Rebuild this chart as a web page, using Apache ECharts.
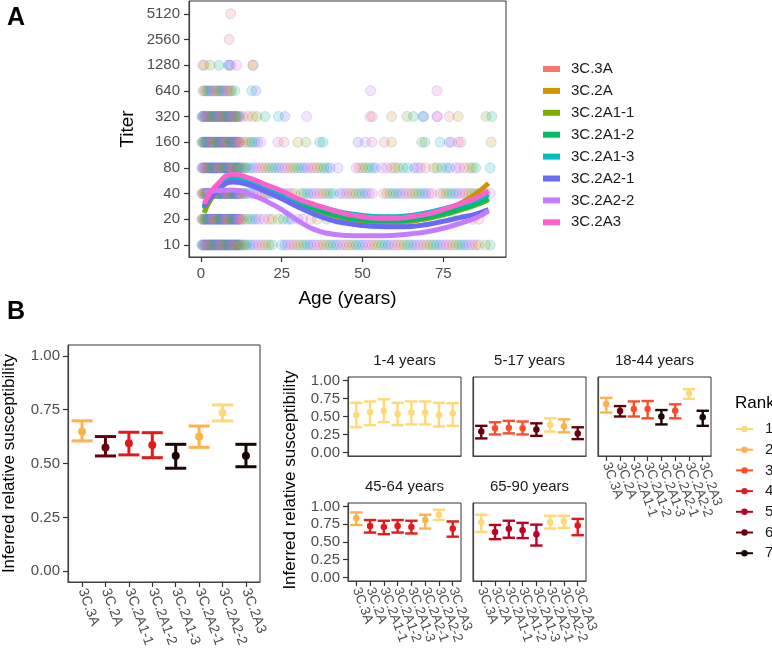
<!DOCTYPE html>
<html><head><meta charset="utf-8">
<script src="https://cdn.jsdelivr.net/npm/echarts@6/dist/echarts.min.js"></script>
<style>html,body{margin:0;padding:0;background:#fff}#c{width:772px;height:652px}</style>
</head><body><div id="c"></div>
<script>
// ---------- Panel A data ----------
const clades = ['3C.3A','3C.2A','3C.2A1-1','3C.2A1-2','3C.2A1-3','3C.2A2-1','3C.2A2-2','3C.2A3'];
const cladeColors = ['#F8766D','#CD9600','#7CAE00','#00BE67','#00BFC4','#6A6AF8','#C77CFF','#FF61CC'];
const titerTicks = [10,20,40,80,160,320,640,1280,2560,5120];
const ageTicks = [0,25,50,75];

// ages (years) of individual measurements at each titer level
const ages10 = [0.5,1,1.5,2,2.5,3,3.5,4,4.5,5,5.5,6,6.5,7,7.5,8,8.5,9,9.5,10,10.5,11,11.5,12,12.5,13,13.5,14,15,16,17,18,19,20,21,22,25,26,27,28,29,30,31,32,33,34,35,36,37,38,39,40,41,42,43,44,45,46,47,48,49,50,51,52,53,54,55,56,57,58,59,60,61,62,63,64,65,66,67,68,69,70,71,72,73,74,75,76,77,78,79,80,81,82,83,84,85,86,88,89.5];
const ages20 = [0.5,1,1.5,2,2.5,3,3.5,4,4.5,5,5.5,6,6.5,7,7.5,8,8.5,9,9.5,10,10.5,11,11.5,12,12.5,13,14,15,16,17,18,19.5,21,22,24,25.5,27,28,30,31.5,34,36,39,42,45,48,51,55,58,62,66,70,74,78,81,84,86];
const ages40 = [0.5,1,1.5,2,2.5,3,3.5,4,4.5,5,5.5,6,6.5,7,7.5,8,8.5,9,9.5,10,10.5,11,11.5,12,12.5,13,13.5,14,15,16,17,18,19,20,21,22,24,25,26,27,28,29,31,32,33,34,35,36,37,38,39,40,41,43,44,45,46,47,48,49,50,51,52,53,56.5,57.5,58.5,59.5,60.5,61.5,62.5,63.5,64.5,65.5,66.5,67.5,68.5,69.5,70.5,71.5,74,75,76,77,78,79,80,81,82,83,84,85,86,87,88,89.5];
const ages80 = [0.5,1,1.5,2,2.5,3,3.5,4,4.5,5,5.5,6,6.5,7,7.5,8,8.5,9,9.5,10,10.5,11,11.5,12,12.5,13,13.5,14,15,16,17,18,19,20,21,22,23,24,25,26,27,28,29,30,31,32,33,34,35,36,37,38,39,40,42.4,48,49,50,51,52,53,54,56,57.5,59,60,61,62.5,64,66,67,68,69.5,72,73,74.5,76,77,79,80,81.5,83,84,85,89.5];
const ages160 = [0.5,1,1.5,2,2.5,3,3.5,4,4.5,5,5.5,6,6.5,7,7.5,8,8.5,9,9.5,10,10.5,11,11.5,12,13,14,15,15.7,16.5,17.5,18.5,23.8,25.7,30,32.5,36.8,37.8,48.6,50.8,52.9,56.7,59,68.3,69.3,74,76.8,77.5,79.6,80.5,89.8];
const ages320 = [0.5,1,1.5,2,2.5,3,3.5,4,4.5,5,5.5,6,6.5,7,7.5,8,8.5,9,9.5,10,10.5,11,12,13,14.5,16,17.3,19.8,24,26,32.7,52.3,53,59,63.7,65.7,68.7,68.9,73,73.2,76.8,79.6,88.2,90];
const ages640 = [0.6,1,1.5,2,2.5,3,3.5,4,4.5,5,5.5,6,6.5,7,7.5,8,8.5,9,9.5,10.5,15.7,17,52.5,73];
const ages1280 = [0.5,1,2.8,5.6,8.5,8.8,9.2,11,16,16.2];
const ages2560 = [8.7];
const ages5120 = [9.2];
// extra observations of young children (very dense band) at titers 10-320
const denseChildAges = [0.25,0.75,1.25,1.75,2.25,2.75,3.25,3.75,4.25,4.75,5.25,5.75,6.25,6.75,7.25,7.75,8.25,8.75,9.25,9.75,10.25,10.75,11.25,11.75];

// smoothed geometric-mean titer by age, one array per clade
const curveAges = [1,5,10,15,20,25,30,35,40,45,50,55,60,65,70,75,80,85,89];
const gm3C3A   = [27.3,44.4,56.6,52.8,44.4,36.8,29.9,25.5,21.9,19.7,18.4,17.9,18.0,18.9,20.6,23.0,26.4,30.3,34.8];
const gm3C2A   = [26.4,44.4,58.6,53.5,46.0,37.8,31.0,26.4,23.0,20.7,19.5,18.9,19.1,20.0,21.7,24.6,30.3,39.5,52.8];
const gm3C2A11 = [23.8,42.9,57.4,54.6,46.6,38.6,31.4,26.4,23.0,20.7,19.3,18.7,18.7,19.2,20.4,22.5,25.5,29.3,33.6];
const gm3C2A12 = [27.3,46.0,58.6,53.5,46.0,38.1,31.4,26.8,23.3,21.0,19.7,19.2,19.2,19.7,21.1,23.3,26.4,30.3,35.3];
const gm3C2A13 = [28.3,47.6,61.5,56.6,48.6,40.6,33.6,29.3,26.0,23.6,22.2,21.4,21.4,22.2,23.8,26.4,29.7,33.6,39.2];
const gm3C2A21 = [28.3,42.9,54.6,50.3,42.3,34.8,27.9,23.0,19.7,17.9,16.9,16.4,16.3,16.5,17.4,18.9,20.9,23.0,25.9];
const gm3C2A22 = [41.4,43.5,44.1,39.5,32.9,26.0,19.3,15.2,13.5,12.9,12.8,12.8,13.0,13.5,14.3,15.7,17.8,20.7,25.1];
const gm3C2A3  = [30.3,51.0,67.3,60.6,51.0,42.9,34.8,29.9,26.0,23.0,21.4,20.6,20.6,21.4,23.0,26.0,30.3,35.3,42.9];

// ---------- Panel B data ----------
const rankNames = ['1','2','3','4','5','6','7'];
const rankColors = ['#FED976','#FEB24C','#FC4E2A','#E31A1C','#BD0026','#67000D','#1C0505'];
const suscTicks = [0,0.25,0.5,0.75,1];

const allEst  = [0.648,0.574,0.594,0.586,0.536,0.625,0.736,0.536];
const allLo   = [0.605,0.535,0.540,0.527,0.478,0.575,0.698,0.485];
const allHi   = [0.698,0.625,0.645,0.643,0.589,0.674,0.772,0.589];
const allRank = [2,6,4,4,7,2,1,7];

const ageGroups = ['1-4 years','5-17 years','18-44 years','45-64 years','65-90 years'];
const est_1_4  = [0.52,0.56,0.58,0.535,0.555,0.555,0.52,0.545];
const lo_1_4   = [0.35,0.38,0.42,0.38,0.39,0.39,0.36,0.37];
const hi_1_4   = [0.69,0.71,0.74,0.69,0.71,0.71,0.69,0.685];
const rank_1_4 = [1,1,1,1,1,1,1,1];
const est_5_17  = [0.29,0.335,0.345,0.335,0.32,0.38,0.365,0.265];
const lo_5_17   = [0.195,0.25,0.265,0.25,0.23,0.29,0.28,0.185];
const hi_5_17   = [0.37,0.42,0.44,0.43,0.405,0.475,0.46,0.35];
const rank_5_17 = [6,3,3,3,6,1,2,6];
const est_18_44  = [0.675,0.577,0.605,0.605,0.5,0.58,0.82,0.49];
const lo_18_44   = [0.555,0.5,0.5,0.475,0.39,0.475,0.745,0.37];
const hi_18_44   = [0.76,0.645,0.71,0.716,0.59,0.67,0.88,0.58];
const rank_18_44 = [2,6,3,3,7,3,1,7];
const est_45_64  = [0.84,0.725,0.71,0.725,0.71,0.81,0.885,0.69];
const lo_45_64   = [0.74,0.633,0.61,0.633,0.62,0.69,0.81,0.575];
const hi_45_64   = [0.917,0.81,0.80,0.81,0.80,0.885,0.955,0.79];
const rank_45_64 = [2,4,4,4,4,2,1,4];
const est_65_90  = [0.78,0.642,0.688,0.665,0.61,0.78,0.79,0.734];
const lo_65_90   = [0.64,0.54,0.56,0.555,0.45,0.69,0.70,0.596];
const hi_65_90   = [0.885,0.74,0.80,0.77,0.745,0.87,0.87,0.826];
const rank_65_90 = [1,5,5,5,5,1,1,4];

// ---------- build ----------
const lvl = t => Math.log2(t / 10);
const scatterLevels = [[10,ages10.concat(denseChildAges)],[20,ages20.concat(denseChildAges)],[40,ages40.concat(denseChildAges)],
  [80,ages80.concat(denseChildAges)],[160,ages160.concat(denseChildAges)],[320,ages320.concat(denseChildAges)],
  [640,ages640],[1280,ages1280],[2560,ages2560],[5120,ages5120]];
const scatterData = [];
scatterLevels.forEach(([t, arr]) => arr.forEach((a, i) => scatterData.push([a, lvl(t), i % 8])));
const curves = [gm3C3A,gm3C2A,gm3C2A11,gm3C2A12,gm3C2A13,gm3C2A21,gm3C2A22,gm3C2A3];

const gridBorder = {show:true, borderColor:'#333', borderWidth:1, backgroundColor:'transparent'};
const grids = [
  Object.assign({left:189, top:1, width:317, height:256}, gridBorder),
  Object.assign({left:65, top:345, width:195, height:237}, gridBorder),
  Object.assign({left:348, top:377, width:113, height:79}, gridBorder),
  Object.assign({left:473, top:377, width:113, height:79}, gridBorder),
  Object.assign({left:598, top:377, width:113, height:79}, gridBorder),
  Object.assign({left:348, top:503, width:113, height:78}, gridBorder),
  Object.assign({left:473, top:503, width:113, height:78}, gridBorder)
];
const axisLine = {show:true, onZero:false, lineStyle:{color:'#444', width:1.2}};
const tickStyle = {lineStyle:{color:'#333', width:1.2}};

const xAxes = [{
  type:'value', gridIndex:0, min:-3.7, max:94.4,
  axisLine, splitLine:{show:false},
  axisTick:Object.assign({show:true, length:5, customValues:ageTicks}, tickStyle),
  axisLabel:{customValues:ageTicks, fontSize:15, color:'#4d4d4d', margin:9, fontFamily:'Liberation Sans'},
  name:'Age (years)', nameLocation:'middle', nameGap:32,
  nameTextStyle:{fontSize:19, color:'#000', fontFamily:'Liberation Sans'}
}];
const yAxes = [{
  type:'value', gridIndex:0, min:-0.47, max:9.5,
  axisLine, splitLine:{show:false},
  axisTick:Object.assign({show:true, length:5, customValues:titerTicks.map(lvl)}, tickStyle),
  axisLabel:{customValues:titerTicks.map(lvl), fontSize:15, color:'#4d4d4d', margin:9, fontFamily:'Liberation Sans',
    formatter:v => String(Math.round(10 * Math.pow(2, v)))},
  name:'Titer', nameLocation:'middle', nameGap:52,
  nameTextStyle:{fontSize:19, color:'#000', fontFamily:'Liberation Sans'}
}];
const catPos = [1,2,3,4,5,6,7,8];
const catOdd = [1,3,5,7], catEven = [2,4,6,8];
// main x axis for a B panel; labelVals = which category labels this axis carries
function bx(gi, showTicks, labelVals, isMain){
  return {type:'value', gridIndex:gi, min:0.4, max:8.6, position:'bottom', offset:0,
    axisLine:isMain ? axisLine : {show:false}, splitLine:{show:false},
    axisTick:Object.assign({show:showTicks && isMain, length:5, customValues:catPos}, tickStyle),
    axisLabel:{show:labelVals.length > 0, customValues:labelVals.length ? labelVals : catPos, rotate:-70,
      fontSize:gi===1?14:13.5, color:'#4d4d4d', margin:7, showMinLabel:true, showMaxLabel:true, hideOverlap:false,
      fontFamily:'Liberation Sans', formatter:v => clades[Math.round(v)-1]}};
}
function by(gi, showLab, name){
  const o = {type:'value', gridIndex:gi, min:-0.05, max:1.05, axisLine, splitLine:{show:false},
    axisTick:Object.assign({show:showLab, length:5, customValues:suscTicks}, tickStyle),
    axisLabel:{show:showLab, customValues:suscTicks, fontSize:15, color:'#4d4d4d', margin:8,
      showMinLabel:true, showMaxLabel:true,
      fontFamily:'Liberation Sans', formatter:v => v.toFixed(2)}};
  if (name) Object.assign(o, {name, nameLocation:'middle', nameGap:50,
    nameTextStyle:{fontSize:17, color:'#000', fontFamily:'Liberation Sans'}});
  return o;
}
xAxes.push(bx(1,true,catPos,true), bx(2,false,[],true), bx(3,false,[],true),
           bx(4,true,catOdd,true), bx(5,true,catOdd,true), bx(6,true,catOdd,true));
// companion axes carrying the even-position labels of the small panels
xAxes.push(bx(4,false,catEven,false), bx(5,false,catEven,false), bx(6,false,catEven,false));
yAxes.push(by(1,true,'Inferred relative susceptibility'), by(2,true), by(3,false), by(4,false), by(5,true), by(6,false));

const series = [];
series.push({
  type:'scatter', name:'obs', xAxisIndex:0, yAxisIndex:0, symbolSize:10, silent:true,
  data:scatterData,
  itemStyle:{color:p => cladeColors[p.data[2]], opacity:0.2, borderColor:p => cladeColors[p.data[2]], borderWidth:1},
  z:1
});
clades.forEach((c, k) => {
  series.push({
    type:'line', name:c, xAxisIndex:0, yAxisIndex:0, smooth:0.5, showSymbol:false, symbol:'none',
    data:curveAges.map((a, i) => [a, lvl(curves[k][i])]),
    lineStyle:{color:cladeColors[k], width:5}, itemStyle:{color:cladeColors[k]}, z:3+k
  });
});

const panels = [
  [allEst, allLo, allHi, allRank],
  [est_1_4, lo_1_4, hi_1_4, rank_1_4],
  [est_5_17, lo_5_17, hi_5_17, rank_5_17],
  [est_18_44, lo_18_44, hi_18_44, rank_18_44],
  [est_45_64, lo_45_64, hi_45_64, rank_45_64],
  [est_65_90, lo_65_90, hi_65_90, rank_65_90]
];
panels.forEach(([est, lo, hi, rk], pi) => {
  const gi = pi + 1;
  const lw = gi === 1 ? 3 : 2.4;
  series.push({
    type:'custom', xAxisIndex:gi, yAxisIndex:gi, silent:true,
    data:est.map((e, i) => [i + 1, lo[i], hi[i], rk[i]]),
    encode:{x:0, y:[1,2]},
    renderItem:(params, api) => {
      const x = api.value(0), l = api.value(1), h = api.value(2), r = api.value(3);
      const pL = api.coord([x, l]), pH = api.coord([x, h]);
      const half = api.size([0.45, 0])[0];
      const style = {stroke:rankColors[r - 1], lineWidth:lw, fill:null};
      return {type:'group', children:[
        {type:'line', shape:{x1:pL[0], y1:pL[1], x2:pH[0], y2:pH[1]}, style},
        {type:'line', shape:{x1:pH[0]-half, y1:pH[1], x2:pH[0]+half, y2:pH[1]}, style},
        {type:'line', shape:{x1:pL[0]-half, y1:pL[1], x2:pL[0]+half, y2:pL[1]}, style}
      ]};
    }
  });
  series.push({
    type:'scatter', xAxisIndex:gi, yAxisIndex:gi, silent:true,
    symbolSize:gi === 1 ? 8 : 6.5,
    data:est.map((e, i) => [i + 1, e, rk[i]]),
    itemStyle:{color:p => rankColors[p.data[2] - 1], opacity:1}, z:5
  });
});
rankNames.forEach((n, k) => {
  series.push({type:'line', name:n, xAxisIndex:1, yAxisIndex:1, data:[], symbol:'circle', symbolSize:7,
    lineStyle:{color:rankColors[k], width:3}, itemStyle:{color:rankColors[k]}});
});

const stripTitles = [
  [404.5, 361, ageGroups[0]], [529.5, 361, ageGroups[1]], [654.5, 361, ageGroups[2]],
  [404.5, 487, ageGroups[3]], [529.5, 487, ageGroups[4]]
];
const graphics = [];
stripTitles.forEach(([x, y, t]) => graphics.push({type:'text', x:x, y:y, style:{text:t, fontSize:15, fill:'#1a1a1a', fontFamily:'Liberation Sans', align:'center', verticalAlign:'middle'}}));
graphics.push({type:'text', x:7, y:18, style:{text:'A', fontSize:25, fontWeight:'bold', fill:'#000', fontFamily:'Liberation Sans', verticalAlign:'middle'}});
graphics.push({type:'text', x:7, y:312, style:{text:'B', fontSize:25, fontWeight:'bold', fill:'#000', fontFamily:'Liberation Sans', verticalAlign:'middle'}});
graphics.push({type:'text', x:290, y:480, rotation:Math.PI/2, style:{text:'Inferred relative susceptibility', fontSize:17, fill:'#000', fontFamily:'Liberation Sans', align:'center', verticalAlign:'middle'}});
graphics.push({type:'text', x:735, y:403, style:{text:'Rank', fontSize:17, fill:'#000', fontFamily:'Liberation Sans', verticalAlign:'middle'}});

const option = {
  animation:false,
  backgroundColor:'#fff',
  grid:grids, xAxis:xAxes, yAxis:yAxes, series,
  legend:[
    {data:clades, orient:'vertical', left:543, top:61, padding:0, icon:'rect', itemWidth:17, itemHeight:6, itemGap:5.9,
     textStyle:{fontSize:15, color:'#1a1a1a', lineHeight:16, padding:[0,0,0,6], fontFamily:'Liberation Sans'}, selectedMode:false},
    {data:rankNames, orient:'vertical', left:735, top:421, padding:0, itemWidth:17, itemHeight:8, itemGap:4.7,
     textStyle:{fontSize:15, color:'#1a1a1a', lineHeight:16, padding:[0,0,0,7], fontFamily:'Liberation Sans'}, selectedMode:false}
  ],
  graphic:graphics
};
const chart = echarts.init(document.getElementById('c'));
chart.setOption(option);
</script></body></html>
